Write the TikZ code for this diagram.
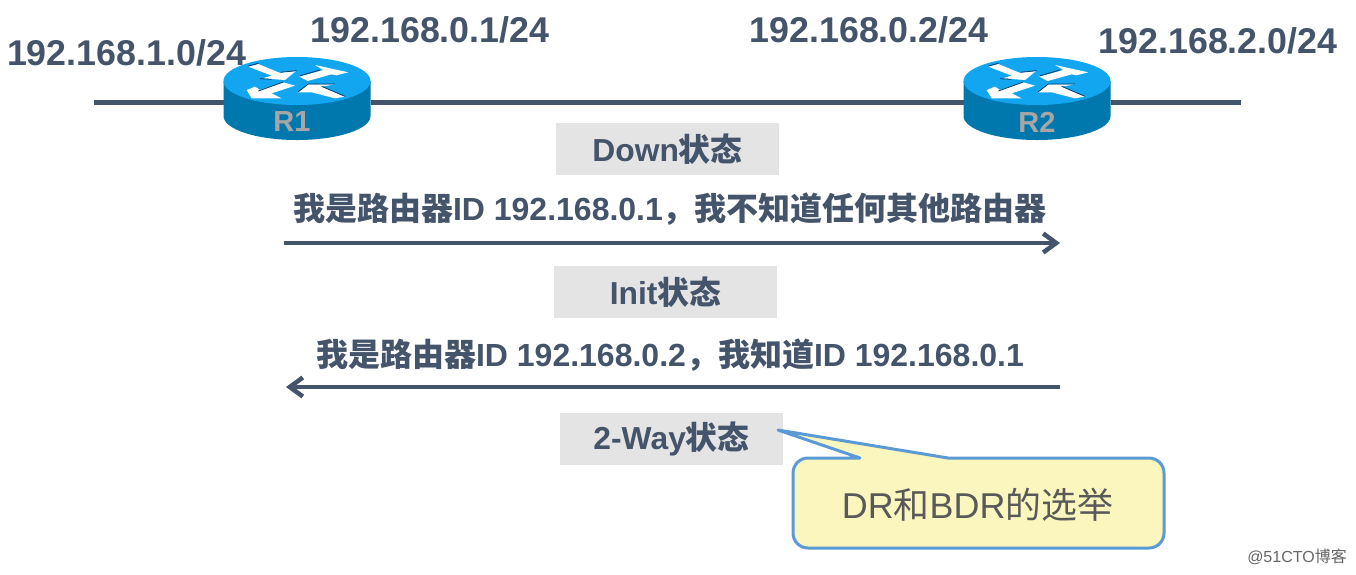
\documentclass[tikz,border=0pt]{standalone}
\usepackage{fontspec}
\setmainfont{Liberation Sans}
\newfontfamily\cjk{Noto Sans CJK SC}
\newcommand{\cj}[1]{{\cjk #1}}
\usetikzlibrary{arrows.meta,backgrounds}
\definecolor{ink}{HTML}{44546A}
\definecolor{chip}{HTML}{E4E4E4}
\definecolor{rtop}{HTML}{12A5F0}
\definecolor{rside}{HTML}{0077AD}
\definecolor{rdark}{HTML}{0A3A66}
\definecolor{callb}{HTML}{5B9BD5}
\definecolor{callf}{HTML}{FAF6BE}
\definecolor{calltxt}{HTML}{595959}
\tikzset{
  x=1pt,y=-1pt,
  addr/.style={text=ink,font=\fontsize{35.8}{36}\selectfont\bfseries,inner sep=0pt},
  state/.style={fill=chip,text=ink,font=\fontsize{31.8}{32}\selectfont\bfseries,minimum width=223pt,minimum height=52pt,inner sep=0pt},
  msg/.style={text=ink,font=\fontsize{32}{33}\selectfont\bfseries,inner sep=0pt},
  link/.style={draw=ink,line width=5pt},
  flow/.style={draw=ink,line width=3.5pt,-{Straight Barb[length=13pt,width=19pt,line width=4.5pt]}},
  routerbox/.style={minimum width=147pt,minimum height=40pt,inner sep=0pt,outer sep=0pt},
  rlabel/.style={text=black!35,font=\fontsize{29}{29}\selectfont\bfseries,inner sep=0pt},
  pics/routerbody/.style={code={
    \fill[rside] (-73.5,0) -- (-73.5,35) arc[start angle=180,end angle=360,x radius=73.5,y radius=-24] -- (73.5,0) -- cycle;
    \fill[rtop] (0,0) ellipse[x radius=73.5,y radius=24];
    \begin{scope}[x=0.3333pt,y=-0.3333pt]
      \fill[white] (-146,-43) -- (-116,-51) -- (-53,-25) -- (-3,-30) -- (-36,-3) -- (-103,-8) -- (-76,-16) -- cycle;
      \fill[white] (154,-26) -- (54,-48) -- (79,-33) -- (7,-13) -- (32,0) -- (104,-20) -- (118,-17) -- cycle;
      \fill[white] (-151,27) -- (-136,52) -- (-46,52) -- (-76,37) -- (-6,14) -- (-41,4) -- (-111,27) -- (-126,17) -- cycle;
      \fill[white] (4,34) -- (34,10) -- (114,10) -- (74,17) -- (144,47) -- (114,52) -- (44,34) -- cycle;
      \draw[rdark,line width=0.8pt] (-146,-45) -- (-116,-53);
      \draw[rdark,line width=0.8pt] (-111,-7) -- (-76,-5);
      \draw[rdark,line width=0.8pt] (-50,-26) -- (-1,-31);
      \draw[rdark,line width=0.8pt] (9,-16) -- (69,-33);
      \draw[rdark,line width=0.8pt] (-116,30) -- (-41,3);
      \draw[rdark,line width=0.8pt] (4,32) -- (34,9) -- (114,9);
      \draw[rdark,line width=0.8pt] (74,16) -- (144,46);
    \end{scope}
  }},
}
\begin{document}
\begin{tikzpicture}
\useasboundingbox (0,0) rectangle (1356,574);

% routers (hit boxes and captions)
\node[routerbox] (R1) at (297,102) {};
\node[routerbox] (R2) at (1037,102) {};
\node[rlabel] (R1t) at (292,122) {R1};
\node[rlabel] (R2t) at (1037,122) {R2};
\coordinate (netL) at (94,102);
\coordinate (netR) at (1241,102);

\begin{scope}[on background layer]
  \fill[white] (0,0) rectangle (1356,574);
  \draw[link] (netL) -- (R1.west);
  \draw[link] (R1.east) -- (R2.west);
  \draw[link] (R2.east) -- (netR);
  \pic at (297,81) {routerbody};
  \pic at (1037,81) {routerbody};
\end{scope}

% addresses
\node[addr] (a1) at (126.5,53) {192.168.1.0/24};
\node[addr] (a2) at (430,30) {192.168.0.1/24};
\node[addr] (a3) at (869,30) {192.168.0.2/24};
\node[addr] (a4) at (1218,41) {192.168.2.0/24};

% states
\node[state] (s1) at (667.5,149) {Down\cj{状态}};
\node[state] (s2) at (665.5,292) {Init\cj{状态}};
\node[state] (s3) at (671.5,439) {2-Way\cj{状态}};

% messages
\node[msg] (m1) at (670,209) {\cj{我是路由器}ID 192.168.0.1\cj{，我不知道任何其他路由器}};
\node[msg] (m2) at (670,355) {\cj{我是路由器}ID 192.168.0.2\cj{，我知道}ID 192.168.0.1};

\coordinate (f1a) at (284,243);
\coordinate (f1b) at (1060,243);
\coordinate (f2a) at (1060,387);
\coordinate (f2b) at (286,387);
\draw[flow] (f1a) -- (f1b);
\draw[flow] (f2a) -- (f2b);

% callout
\coordinate (tip) at (778,430);
\draw[draw=callb,fill=callf,line width=3pt,line join=round]
  (tip) -- (860,458) -- (808,458)
  arc[start angle=270,end angle=180,radius=15] -- (793,533)
  arc[start angle=180,end angle=90,radius=15] -- (1149,548)
  arc[start angle=90,end angle=0,radius=15] -- (1164,473)
  arc[start angle=0,end angle=-90,radius=15] -- (948,458) -- cycle;
\node[text=calltxt,font=\fontsize{35.9}{36}\selectfont,inner sep=0pt] (ct) at (977.5,505) {DR\cj{和}BDR\cj{的选举}};

% watermark
\node[text=black!60,font=\fontsize{16}{16}\selectfont,inner sep=0pt] (wm) at (1297,557) {@51CTO\cj{博客}};
\end{tikzpicture}
\end{document}
